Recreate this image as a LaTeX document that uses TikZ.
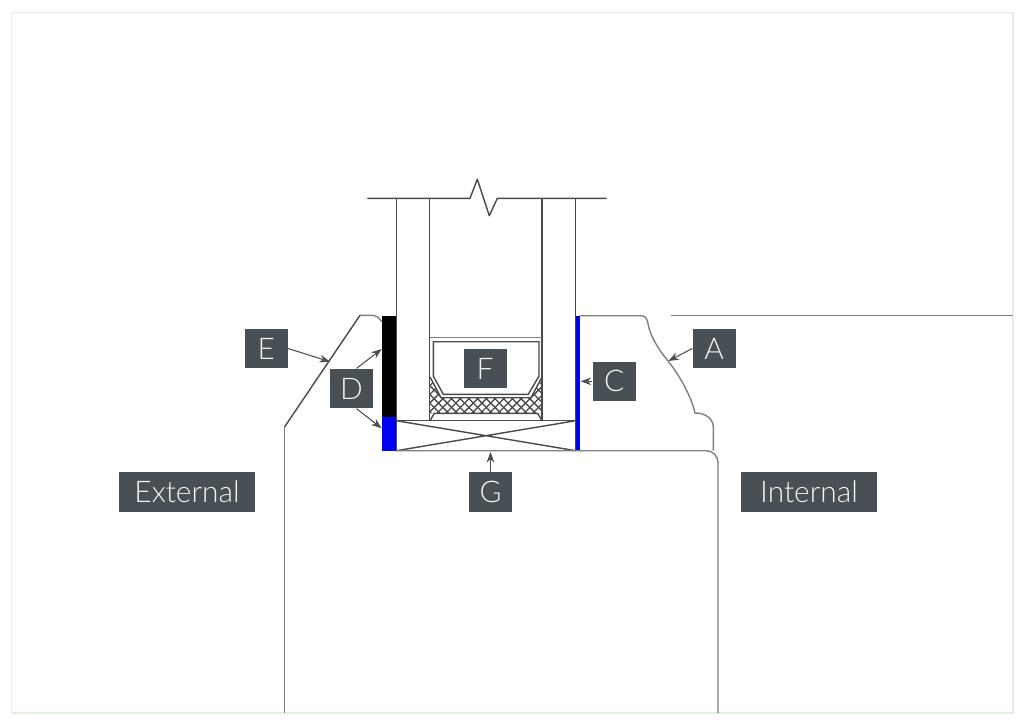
\documentclass[tikz,border=0pt]{standalone}
\usepackage{fontspec}
\setmainfont{Lato}[UprightFont=* Light]
\definecolor{TagGrey}{HTML}{484F55}
\definecolor{TagText}{HTML}{F6F4EE}
\definecolor{LineGrey}{HTML}{4A4A4A}
\definecolor{SoftGrey}{HTML}{808080}
\definecolor{FrameGreen}{HTML}{E2F0E0}
\definecolor{SealBlue}{HTML}{0000F0}
\usetikzlibrary{arrows.meta, calc}
\tikzset{
  % Label styles
  tagbox/.style={rectangle, fill=TagGrey, text=TagText, minimum width=0.86cm, minimum height=0.79cm, inner sep=0pt, font=\fontsize{17}{20}\selectfont},
  widebox/.style={tagbox, minimum width=2.72cm},
  % Line styles
  detail/.style={draw=LineGrey, line width=0.8pt, line join=round},
  softline/.style={draw=SoftGrey, line width=0.8pt, line join=round},
  % Arrow styles
  tagarrow/.style={-{Stealth[length=6pt, width=4.4pt]}, draw=TagGrey, line width=0.6pt}
}
\begin{document}
\begin{tikzpicture}[x=0.02cm, y=-0.02cm]
  \useasboundingbox (0,0) rectangle (1024,724);
  \fill[white] (0,0) rectangle (1024,724);
  \draw[FrameGreen, line width=0.7pt] (11.5,12.5) rectangle (1013,713);

  % Wall and head of the frame
  \draw[detail] (367.3,198.3) -- (470,198.3) -- (477.3,179.3) -- (489.3,215.7) -- (497.3,198.3) -- (606.7,198.3);
  \foreach \wallx in {396.3, 429.7, 542, 575.7} {
    \draw[detail] (\wallx,198.3) -- (\wallx,420.7);
  }
  \draw[softline] (430,337.7) -- (542,337.7);

  % Glazing bead and toe packer hatch
  \begin{scope}
    \clip (430,377) -- (441,397.7) -- (531,397.7) -- (542,377) -- (542,413.3) -- (430,413.3) -- cycle;
    \foreach \hatchx in {0,...,30} {
      \draw[LineGrey, line width=0.75pt] (395+\hatchx*8.7,377) -- ++(40,40);
      \draw[LineGrey, line width=0.75pt] (395+\hatchx*8.7,377) -- ++(-40,40);
    }
  \end{scope}
  \draw[detail] (433.3,341.7) -- (539,341.7) -- (539,376) -- (528.3,394.3) -- (443.3,394.3) -- (433.3,376) -- cycle;
  \draw[detail] (430,377) -- (441,397.7) -- (531,397.7) -- (542,377);
  \draw[detail] (430,420.7) -- (434.3,413.3) -- (537.7,413.3) -- (542,420.7);

  % Packer with cross
  \draw[detail] (396.3,420.7) rectangle (575.7,450.7);
  \draw[detail] (396.3,420.7) -- (575.7,450.7) (396.3,450.7) -- (575.7,420.7);

  % Sealant strips
  \fill[black] (381.7,315.7) rectangle (396.3,417);
  \fill[SealBlue] (381.7,417) rectangle (396.3,450.7);
  \fill[SealBlue] (576,315.7) rectangle (580,450.7);

  % Sill, external side
  \draw[softline] (381.7,321.7) .. controls (379,317) and (375,315.3) .. (371.7,315.3) -- (360,315.3);
  \draw[detail] (360,315.3) -- (284.3,427.3);
  \draw[softline] (284.3,427.3) -- (284.3,713);

  % Sill, internal side
  \draw[softline] (580,315.7) -- (641.7,315.7) .. controls (646,315.7) and (647.6,320) .. (648.3,325)
    .. controls (650,335) and (658,349) .. (668,361)
    .. controls (680,376) and (691,396) .. (695,413)
    .. controls (705,413) and (713,418) .. (713.3,427) -- (713.3,450.7);
  \draw[softline] (396.3,450.7) -- (706,450.7) .. controls (713,450.7) and (718,456) .. (718,463) -- (718,713);
  \draw[softline] (670.7,315.5) -- (1013,315.5);

  % Labels
  \node[tagbox] (boxE) at (266.2,348.5) {E};
  \node[tagbox] (boxD) at (351.5,388.5) {D};
  \node[tagbox] (boxF) at (485,368.5) {F};
  \node[tagbox] (boxC) at (614.2,381.3) {C};
  \node[tagbox] (boxA) at (714.2,348.5) {A};
  \node[tagbox] (boxG) at (490.5,492) {G};
  \node[widebox] (boxExternal) at (187,492) {External};
  \node[widebox] (boxInternal) at (809,492) {Internal};

  % Arrow targets
  \coordinate (endE) at (330,361.7);
  \coordinate (endDtop) at (381.7,349);
  \coordinate (endDlow) at (381.7,428.3);
  \coordinate (endC) at (580.7,381.3);
  \coordinate (endA) at (668.3,361);
  \coordinate (endG) at (490.5,452);

  \draw[tagarrow] (boxE.east) -- (endE);
  \draw[tagarrow] ([xshift=0.1cm]boxD.north) -- (endDtop);
  \draw[tagarrow] ([xshift=0.1cm]boxD.south) -- (endDlow);
  \draw[tagarrow] (boxC.west) -- (endC);
  \draw[tagarrow] (boxA.west) -- (endA);
  \draw[tagarrow] (boxG.north) -- (endG);
\end{tikzpicture}
\end{document}
